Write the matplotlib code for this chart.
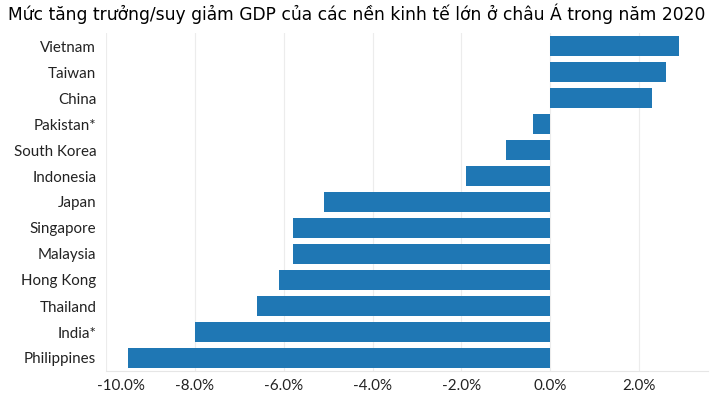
import numpy as np
import matplotlib
matplotlib.use('Agg')
import matplotlib.pyplot as plt
import matplotlib.transforms as mtransforms
from matplotlib.ticker import FuncFormatter

TITLE = 'Mức tăng trưởng/suy giảm GDP của các nền kinh tế lớn ở châu Á trong năm 2020'
countries = ['Vietnam', 'Taiwan', 'China', 'Pakistan*', 'South Korea', 'Indonesia', 'Japan',
             'Singapore', 'Malaysia', 'Hong Kong', 'Thailand', 'India*', 'Philippines']
growth = [2.9, 2.6, 2.3, -0.4, -1.0, -1.9, -5.1, -5.8, -5.8, -6.1, -6.6, -8.0, -9.5]
x_ticks = [-10, -8, -6, -4, -2, 0, 2]

BAR = '#1f77b4'
TXT = '#222222'

fig = plt.figure(figsize=(7.1, 3.95), dpi=100)
fig.patch.set_facecolor('white')
ax = fig.add_axes([106 / 710, 24 / 395, 602 / 710, 338 / 395])

y = np.arange(len(countries))
ax.barh(y, growth, height=0.75, color=BAR, zorder=3)
ax.set_ylim(len(countries) - 0.5, -0.5)
ax.set_xlim(-10, 3.55)

ax.set_yticks(y)
ax.set_yticklabels(countries, family='Lato', fontsize=10.9, color=TXT)
ax.set_xticks(x_ticks)
ax.xaxis.set_major_formatter(FuncFormatter(lambda v, p: f'{v:.1f}%'))
ax.tick_params(axis='x', labelsize=10.9, labelcolor=TXT)
for lab in ax.get_xticklabels():
    lab.set_family('Lato')

ax.tick_params(axis='both', length=0)
ax.tick_params(axis='y', pad=7)
ax.tick_params(axis='x', pad=6)
ax.grid(axis='x', color='#ececec', linewidth=0.8, zorder=0)
for s in ['top', 'right', 'left']:
    ax.spines[s].set_visible(False)
ax.spines['bottom'].set_color('#e6e6e6')
ax.spines['bottom'].set_linewidth(0.8)

# first label is pushed right so it stays inside the plot, like the original
first = ax.xaxis.get_major_ticks()[0].label1
first.set_transform(first.get_transform() + mtransforms.ScaledTranslation(15 / 100, 0, fig.dpi_scale_trans))

fig.text(8 / 710, 1 - 14 / 395, TITLE, ha='left', va='center', fontsize=12.35,
         family='DejaVu Sans', color='black')

fig.savefig('out.png', dpi=100, facecolor='white')
